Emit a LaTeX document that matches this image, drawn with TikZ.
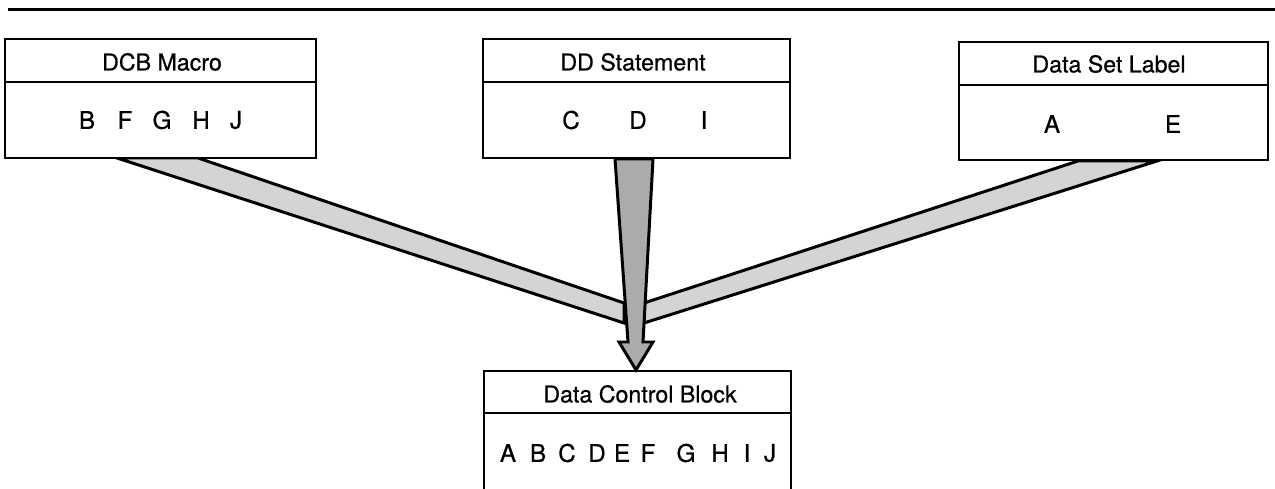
\documentclass[tikz,border=0pt]{standalone}
\usepackage{fontspec}
\setmainfont{TeX Gyre Heros}[FakeBold=0.6]
\begin{document}
\begin{tikzpicture}[x=0.02cm,y=-0.02cm,
  boxline/.style={line width=1.1pt},
  band/.style={line width=1.7pt, line join=miter, fill=black!17},
  darkband/.style={line width=1.7pt, line join=miter, fill=black!33},
  lbl/.style={inner sep=0pt, font=\fontsize{13.2}{15}\selectfont},
  letter/.style={inner sep=0pt, font=\fontsize{13.8}{15}\selectfont}]
\useasboundingbox (0,0) rectangle (1275,489);
% top rule
\draw[line width=1.7pt] (8,9.5) -- (1275,9.5);

% band end points
\coordinate (l1) at (117,158);
\coordinate (l2) at (198,158);
\coordinate (l3) at (624,303);
\coordinate (l4) at (624,323);
\coordinate (r1) at (1078,161);
\coordinate (r2) at (1157,161);
\coordinate (r3) at (644,323);
\coordinate (r4) at (644,303);
% side bands
\draw[band] (l1) -- (l2) -- (l3) -- (l4) -- cycle;
\draw[band] (r1) -- (r2) -- (r3) -- (r4) -- cycle;
% centre arrow
\coordinate (c1) at (615,159);
\coordinate (c2) at (653,159);
\coordinate (c3) at (643,342);
\coordinate (c4) at (653,342);
\coordinate (tip) at (636,370);
\coordinate (c6) at (619,342);
\coordinate (c7) at (628,342);
\draw[darkband] (c1) -- (c2) -- (c3) -- (c4) -- (tip) -- (c6) -- (c7) -- cycle;

% boxes
\draw[boxline, fill=white] (5,39) rectangle (316,158);
\draw[boxline] (5,82) -- (316,82);
\draw[boxline, fill=white] (483,39) rectangle (790,158);
\draw[boxline] (483,82) -- (790,82);
\draw[boxline, fill=white] (959,42) rectangle (1268,160);
\draw[boxline] (959,85) -- (1268,85);
\draw[boxline] (484,489) -- (484,371) -- (791,371) -- (791,489);
\draw[boxline] (484,413) -- (791,413);

% titles
\node[lbl] (dcbt) at (162,62) {DCB Macro};
\node[lbl] (ddt) at (633,62) {DD Statement};
\node[lbl] (dslt) at (1109,64) {Data Set Label};
\node[lbl] (cbt) at (640,394) {Data Control Block};

% letters
\foreach \t/\x [count=\i] in {B/87,F/125,G/162,H/201,J/236}
  \node[letter] (dcbl\i) at (\x,120) {\t};
\foreach \t/\x [count=\i] in {C/571,D/638,I/704}
  \node[letter] (ddl\i) at (\x,120) {\t};
\foreach \t/\x [count=\i] in {A/1052,E/1173}
  \node[letter] (dsll\i) at (\x,124) {\t};
\foreach \t/\x [count=\i] in {A/508,B/538,C/567,D/597,E/622,F/648,G/686,H/720,I/747,J/770}
  \node[letter] (cbl\i) at (\x,453) {\t};
\end{tikzpicture}
\end{document}
